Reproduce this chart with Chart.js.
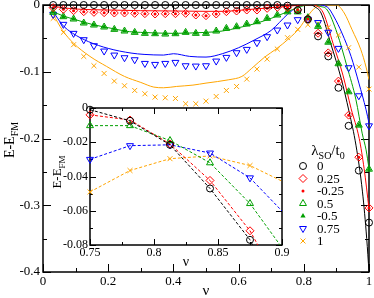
<!DOCTYPE html>
<html><head><meta charset="utf-8">
<script src="https://cdn.jsdelivr.net/npm/chart.js@4.4.1/dist/chart.umd.min.js"></script>
<style>
html,body{margin:0;padding:0;background:#fff;}
#wrap{position:relative;width:374px;height:298px;}
canvas{position:absolute;left:0;top:0;}
</style></head><body>
<div id="wrap"><canvas id="main" width="374" height="298"></canvas><canvas id="inset" width="374" height="298"></canvas></div>
<script>
// ---------- data ----------
const nu = [0.03125,0.0625,0.09375,0.125,0.15625,0.1875,0.21875,0.25,0.28125,0.3125,0.34375,0.375,0.40625,0.4375,0.46875,0.5,0.53125,0.5625,0.59375,0.625,0.65625,0.6875,0.71875,0.75,0.78125,0.8125,0.84375,0.875,0.90625,0.9375,0.96875,1];
const E_0    = [0,0,0,0,0,0,0,0,0,0,0,0,0,0,0,0,0,0,0,0,0,0,0,-0.001,-0.0075,-0.0215,-0.047,-0.077,-0.124,-0.181,-0.248,-0.326];
const E_p025 = [-0.004,-0.0065,-0.0085,-0.010,-0.011,-0.0115,-0.012,-0.012,-0.0125,-0.013,-0.0135,-0.013,-0.013,-0.0125,-0.015,-0.016,-0.0135,-0.010,-0.009,-0.0075,-0.0075,-0.005,-0.0035,-0.004,-0.007,-0.021,-0.0423,-0.0717,-0.114,-0.165,-0.228,-0.304];
const E_m025 = [-0.004,-0.0065,-0.0085,-0.010,-0.011,-0.0115,-0.012,-0.012,-0.0125,-0.013,-0.0135,-0.013,-0.013,-0.0125,-0.015,-0.016,-0.0135,-0.010,-0.009,-0.0075,-0.0075,-0.005,-0.0035,-0.004,-0.007,-0.021,-0.0423,-0.0717,-0.114,-0.165,-0.228,-0.304];
const E_p05  = [-0.011,-0.0175,-0.021,-0.027,-0.030,-0.033,-0.0365,-0.039,-0.041,-0.0425,-0.043,-0.0435,-0.043,-0.041,-0.0425,-0.0425,-0.039,-0.035,-0.0325,-0.0285,-0.025,-0.020,-0.015,-0.0103,-0.0103,-0.019,-0.032,-0.0558,-0.088,-0.130,-0.180,-0.246];
const E_m05  = [-0.011,-0.0175,-0.021,-0.027,-0.030,-0.033,-0.0365,-0.039,-0.041,-0.0425,-0.043,-0.0435,-0.043,-0.041,-0.0425,-0.0425,-0.039,-0.035,-0.0325,-0.0285,-0.025,-0.020,-0.015,-0.0103,-0.0103,-0.019,-0.032,-0.0558,-0.088,-0.130,-0.180,-0.246];
const E_p075 = [-0.014,-0.029,-0.0425,-0.052,-0.061,-0.069,-0.075,-0.079,-0.082,-0.0875,-0.089,-0.0875,-0.086,-0.091,-0.0915,-0.091,-0.084,-0.0785,-0.0715,-0.0665,-0.0565,-0.0475,-0.0375,-0.030,-0.022,-0.0215,-0.0263,-0.0408,-0.065,-0.094,-0.136,-0.181];
const E_p1   = [-0.020,-0.041,-0.0595,-0.077,-0.091,-0.1025,-0.114,-0.121,-0.128,-0.133,-0.138,-0.139,-0.140,-0.148,-0.148,-0.144,-0.137,-0.128,-0.122,-0.111,-0.096,-0.081,-0.066,-0.049,-0.0365,-0.0296,-0.028,-0.0336,-0.045,-0.064,-0.093,-0.126];

// solid curves
const lineNu_0  = [0.03125,0.82,0.835,0.853,0.884,0.914,0.939,0.96,0.98,0.993,1];
const lineE_0   = [0,0,-0.003,-0.012,-0.06,-0.109,-0.16,-0.21,-0.28,-0.35,-0.40];
const lineNu_25 = [0.03125,0.06,0.1,0.15,0.2,0.3,0.4,0.5,0.55,0.6,0.65,0.7,0.75,0.8,0.83,0.845,0.86,0.89,0.92,0.945,0.97,0.985,1];
const lineE_25  = [-0.002,-0.004,-0.006,-0.007,-0.0075,-0.0085,-0.009,-0.0095,-0.0095,-0.008,-0.006,-0.004,-0.002,0,0,-0.003,-0.012,-0.058,-0.105,-0.155,-0.2,-0.245,-0.305];
const lineNu_5  = [0.03125,0.06,0.1,0.15,0.2,0.266,0.3,0.35,0.4,0.45,0.5,0.55,0.6,0.65,0.7,0.75,0.78,0.8,0.83,0.85,0.872,0.902,0.933,0.96,0.979,0.991,1];
const lineE_5   = [-0.010,-0.016,-0.022,-0.029,-0.034,-0.040,-0.041,-0.042,-0.0425,-0.042,-0.041,-0.039,-0.034,-0.028,-0.020,-0.010,-0.004,-0.001,0,-0.002,-0.0075,-0.042,-0.093,-0.142,-0.192,-0.217,-0.245];
const lineNu_75 = [0.03125,0.06,0.09,0.14,0.2,0.27,0.31,0.37,0.4,0.45,0.5,0.55,0.6,0.65,0.7,0.75,0.78,0.8,0.841,0.872,0.893,0.917,0.945,0.969,0.991,1];
const lineE_75  = [-0.010,-0.030,-0.042,-0.055,-0.065,-0.072,-0.074,-0.075,-0.073,-0.077,-0.078,-0.073,-0.064,-0.052,-0.038,-0.014,-0.003,0,0,-0.003,-0.018,-0.042,-0.077,-0.117,-0.157,-0.177];
const lineNu_1  = [0.03125,0.06,0.093,0.144,0.195,0.25,0.3,0.34,0.37,0.41,0.46,0.5,0.57,0.61,0.64,0.68,0.715,0.755,0.786,0.81,0.838,0.87,0.9,0.924,0.948,0.975,0.991,1];
const lineE_1   = [-0.014,-0.038,-0.057,-0.077,-0.092,-0.107,-0.116,-0.123,-0.124,-0.122,-0.120,-0.117,-0.112,-0.107,-0.095,-0.078,-0.066,-0.050,-0.035,-0.018,-0.003,0,0,-0.012,-0.037,-0.067,-0.093,-0.112];

const legendLabels = ['0','0.25','-0.25','0.5','-0.5','0.75','1'];
const xTickVals = [0,0.2,0.4,0.6,0.8,1];
const xTickLabels = ['0','0.2','0.4','0.6','0.8','1'];
const yTickVals = [-0.4,-0.3,-0.2,-0.1,0];
const yTickLabels = ['-0.4','-0.3','-0.2','-0.1','0'];
const xMinor = [0.1,0.3,0.5,0.7,0.9];
const yMinor = [-0.35,-0.25,-0.15,-0.05];

const insetRange = [23, 29]; // indices of nu shown in the inset (0.75 .. 0.90625)
const ixTickVals = [0.75,0.8,0.85,0.9];
const ixTickLabels = ['0.75','0.8','0.85','0.9'];
const iyTickVals = [-0.08,-0.06,-0.04,-0.02,0];
const iyTickLabels = ['-0.08','-0.06','-0.04','-0.02','0'];
const ixMinor = [0.775,0.825,0.875];
const iyMinor = [-0.07,-0.05,-0.03,-0.01];

// ---------- styles ----------
const RED='#ff0000', GREEN='#00a000', BLUE='#0000ff', ORANGE='#ffa500', BLACK='#000000';
const SERIF = '"Liberation Serif","DejaVu Serif",serif';
const pts = (xs, ys) => xs.map((x,i)=>({x:x, y:ys[i]}));

const markerDefs = [
  {data:E_0,    color:BLACK,  style:'circle',   r:3.5, fill:false, rot:0},
  {data:E_p025, color:RED,    style:'rectRot',  r:4,   fill:false, rot:0},
  {data:E_m025, color:RED,    style:'circle',   r:1.5, fill:true,  rot:0},
  {data:E_p05,  color:GREEN,  style:'triangle', r:4,   fill:false, rot:0},
  {data:E_m05,  color:GREEN,  style:'triangle', r:3,   fill:true,  rot:0},
  {data:E_p075, color:BLUE,   style:'triangle', r:4,   fill:false, rot:180},
  {data:E_p1,   color:ORANGE, style:'crossRot', r:3.5, fill:false, rot:0}
];
const lineDefs = [
  {x:lineNu_0,  y:lineE_0,  color:BLACK},
  {x:lineNu_25, y:lineE_25, color:RED},
  {x:lineNu_5,  y:lineE_5,  color:GREEN},
  {x:lineNu_75, y:lineE_75, color:BLUE},
  {x:lineNu_1,  y:lineE_1,  color:ORANGE}
];

function markerDataset(d, xs, ys, extra){
  return Object.assign({
    data: pts(xs, ys), showLine:false, order:1, clip:false,
    pointStyle:d.style, pointRadius:d.r, pointRotation:d.rot,
    pointBorderColor:d.color, pointBackgroundColor:d.fill?d.color:'rgba(0,0,0,0)',
    pointBorderWidth:d.fill?0:1, borderColor:d.color, backgroundColor:d.fill?d.color:'rgba(0,0,0,0)'
  }, extra||{});
}

function drawFrame(chart, o){
  const {ctx, chartArea:a, scales:{x,y}} = chart;
  ctx.save();
  ctx.strokeStyle='#000'; ctx.lineWidth=o.lw;
  ctx.strokeRect(a.left, a.top, a.right-a.left, a.bottom-a.top);
  ctx.lineWidth=1;
  ctx.beginPath();
  const vt=(vals,len)=>vals.forEach(v=>{const p=Math.round(x.getPixelForValue(v))+0.5;
    ctx.moveTo(p,a.bottom); ctx.lineTo(p,a.bottom-len); ctx.moveTo(p,a.top); ctx.lineTo(p,a.top+len);});
  const ht=(vals,len)=>vals.forEach(v=>{const p=Math.round(y.getPixelForValue(v))+0.5;
    ctx.moveTo(a.left,p); ctx.lineTo(a.left+len,p); ctx.moveTo(a.right,p); ctx.lineTo(a.right-len,p);});
  vt(o.xMaj,o.maj); vt(o.xMin,o.min); ht(o.yMaj,o.maj); ht(o.yMin,o.min);
  ctx.stroke();
  ctx.restore();
}
function drawSubText(ctx, parts, x, y, align){
  // parts: [text, size, dy]
  let w=0; parts.forEach(p=>{ctx.font=p[1]+'px '+SERIF; w+=ctx.measureText(p[0]).width;});
  let cx = align==='center'? x-w/2 : x;
  ctx.textBaseline='alphabetic'; ctx.textAlign='left';
  parts.forEach(p=>{ctx.font=p[1]+'px '+SERIF; ctx.fillText(p[0], cx, y+p[2]); cx+=ctx.measureText(p[0]).width;});
}

// ---------- main chart ----------
const mainDatasets = [];
lineDefs.forEach(l=>mainDatasets.push({data:pts(l.x,l.y), showLine:true, order:2, borderColor:l.color, borderWidth:1,
  pointRadius:0, cubicInterpolationMode:'monotone', backgroundColor:l.color}));
markerDefs.forEach(d=>mainDatasets.push(markerDataset(d, nu, d.data)));

const mainPlugin = {
  id:'mainDeco',
  beforeDatasetsDraw(chart){
    drawFrame(chart,{lw:1.5,maj:8,min:4,xMaj:xTickVals,xMin:xMinor,yMaj:yTickVals,yMin:yMinor});
  },
  afterDraw(chart){
    const ctx=chart.ctx, a=chart.chartArea;
    ctx.save(); ctx.fillStyle='#000';
    // x title
    ctx.font='15px '+SERIF; ctx.textAlign='center'; ctx.textBaseline='alphabetic';
    ctx.fillText('\u03bd', (a.left+a.right)/2, 295);
    // y title rotated
    ctx.translate(14, 140); ctx.rotate(-Math.PI/2);
    drawSubText(ctx, [['E-E',14,0],['FM',10,4]], 0, 0, 'center');
    ctx.restore();
    // legend
    ctx.save(); ctx.fillStyle='#000';
    drawSubText(ctx, [['\u03bb',15,0],['SO',10,4],['/t',15,0],['0',10,4]], 328, 155, 'center');
    markerDefs.forEach((d,i)=>{
      const yy = 166 + i*12.5;
      ctx.fillStyle = d.fill?d.color:'rgba(0,0,0,0)'; ctx.strokeStyle=d.color; ctx.lineWidth=1;
      Chart.helpers.drawPoint(ctx,{pointStyle:d.style,rotation:d.rot,radius:d.r,borderWidth:d.fill?0:1},303,yy);
      ctx.fillStyle='#000'; ctx.font='13px '+SERIF; ctx.textAlign='left'; ctx.textBaseline='middle';
      ctx.fillText(legendLabels[i], 317, yy+1);
    });
    ctx.restore();
  }
};

new Chart(document.getElementById('main'), {
  type:'scatter',
  data:{datasets:mainDatasets},
  options:{
    responsive:false, animation:false, events:[],
    layout:{padding:{left:0,right:4,top:5,bottom:0}},
    plugins:{legend:{display:false}, tooltip:{enabled:false}},
    scales:{
      x:{type:'linear', min:0, max:1, grid:{display:false,drawTicks:false}, border:{display:false},
        afterBuildTicks:s=>{s.ticks=xTickVals.map(v=>({value:v}));},
        ticks:{padding:2, color:'#000', font:{family:SERIF,size:13}, maxRotation:0, autoSkip:false,
          callback:(v,i)=>xTickLabels[i]},
        afterFit:s=>{s.height=26; s.paddingLeft=0; s.paddingRight=0;}},
      y:{type:'linear', min:-0.4, max:0, grid:{display:false,drawTicks:false}, border:{display:false},
        afterBuildTicks:s=>{s.ticks=yTickVals.map(v=>({value:v}));},
        ticks:{padding:3, color:'#000', font:{family:SERIF,size:13}, autoSkip:false,
          callback:(v,i)=>yTickLabels[i]},
        afterFit:s=>{s.width=43; s.paddingTop=0; s.paddingBottom=0;}}
    }
  },
  plugins:[mainPlugin]
});

// ---------- inset ----------
const inu = nu.slice(insetRange[0], insetRange[1]);
const insetDefs = [markerDefs[0], markerDefs[1], markerDefs[3], markerDefs[5], markerDefs[6]];
const insetDatasets = insetDefs.map(d=>markerDataset(d, inu, d.data.slice(insetRange[0], insetRange[1]),
  {showLine:true, clip:{left:false,top:false,right:0,bottom:0}, borderWidth:1, borderDash:[3,2], pointRadius:d.r, order:1}));

const insetPlugin = {
  id:'insetDeco',
  beforeDraw(chart){
    const ctx=chart.ctx, a=chart.chartArea;
    ctx.save(); ctx.fillStyle='#fff'; ctx.fillRect(a.left,a.top,a.right-a.left,a.bottom-a.top); ctx.restore();
  },
  beforeDatasetsDraw(chart){
    drawFrame(chart,{lw:1.5,maj:6,min:3,xMaj:ixTickVals,xMin:ixMinor,yMaj:iyTickVals,yMin:iyMinor});
  },
  afterDraw(chart){
    const ctx=chart.ctx, a=chart.chartArea;
    ctx.save(); ctx.fillStyle='#000';
    ctx.font='14px '+SERIF; ctx.textAlign='center'; ctx.textBaseline='alphabetic';
    ctx.fillText('\u03bd', (a.left+a.right)/2, 266);
    ctx.translate(61, 172); ctx.rotate(-Math.PI/2);
    drawSubText(ctx, [['E-E',13,0],['FM',9,4]], 0, 0, 'center');
    ctx.restore();
  }
};

new Chart(document.getElementById('inset'), {
  type:'scatter',
  data:{datasets:insetDatasets},
  options:{
    responsive:false, animation:false, events:[],
    layout:{padding:{left:54,right:92,top:108,bottom:39}},
    plugins:{legend:{display:false}, tooltip:{enabled:false}},
    scales:{
      x:{type:'linear', min:0.75, max:0.9, grid:{display:false,drawTicks:false}, border:{display:false},
        afterBuildTicks:s=>{s.ticks=ixTickVals.map(v=>({value:v}));},
        ticks:{padding:1, color:'#000', font:{family:SERIF,size:12}, maxRotation:0, autoSkip:false,
          callback:(v,i)=>ixTickLabels[i]},
        afterFit:s=>{s.height=14; s.paddingLeft=0; s.paddingRight=0;}},
      y:{type:'linear', min:-0.08, max:0, grid:{display:false,drawTicks:false}, border:{display:false},
        afterBuildTicks:s=>{s.ticks=iyTickVals.map(v=>({value:v}));},
        ticks:{padding:2, color:'#000', font:{family:SERIF,size:12}, autoSkip:false,
          callback:(v,i)=>iyTickLabels[i]},
        afterFit:s=>{s.width=36; s.paddingTop=0; s.paddingBottom=0;}}
    }
  },
  plugins:[insetPlugin]
});
</script>
</body></html>
